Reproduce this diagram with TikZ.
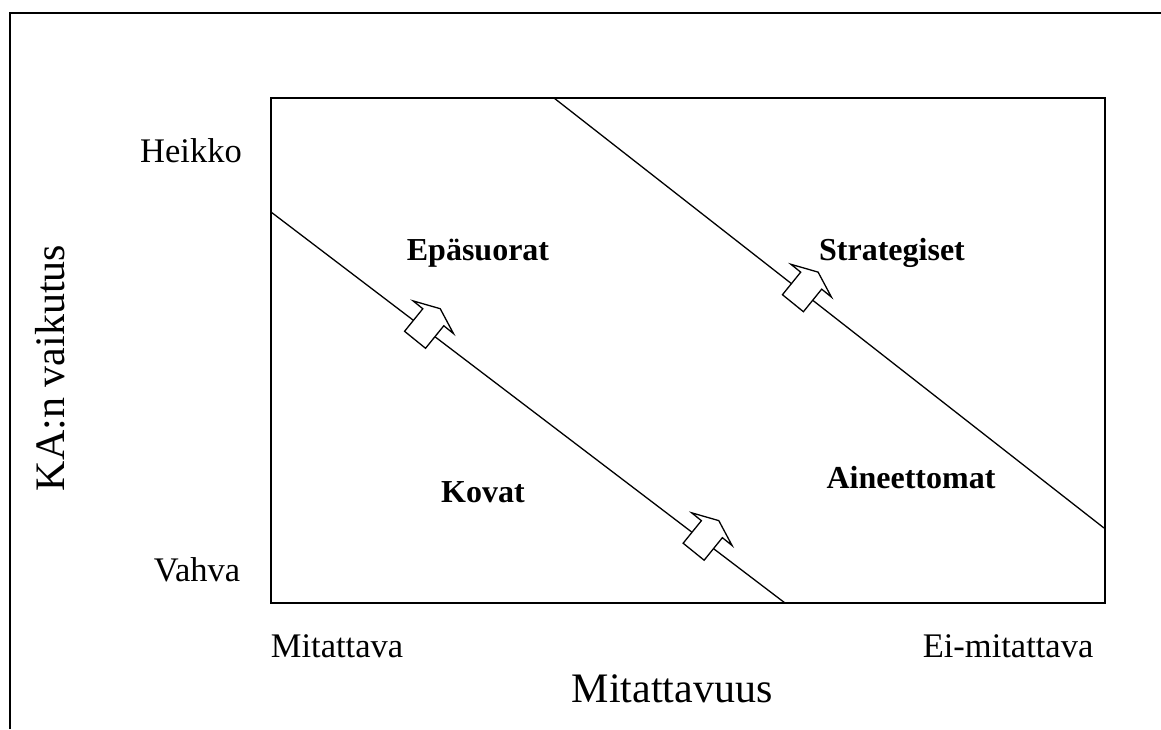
\documentclass[tikz,border=0pt]{standalone}
\usepackage{fontspec}
\setmainfont{Liberation Serif}
\begin{document}
\begin{tikzpicture}[x=1pt,y=-1pt,
  frameline/.style={line width=2pt},
  diag/.style={line width=1.3pt},
  blockarr/.style={line width=1.3pt, fill=white, line join=miter},
  small/.style={font=\fontsize{34.5}{40}\selectfont, inner sep=0pt},
  big/.style={font=\fontsize{42}{48}\selectfont, inner sep=0pt},
  region/.style={font=\fontsize{32}{36}\selectfont\bfseries, inner sep=0pt}]
\useasboundingbox (0,0) rectangle (1161,729);
% outer frame
\coordinate (ofb) at (10,729);
\coordinate (oft) at (10,13);
\coordinate (ofr) at (1161,13);
\draw[frameline] (ofb) -- (oft) -- (ofr);
% inner rectangle
\coordinate (bl) at (271,603);
\coordinate (tr) at (1105,98);
\draw[frameline] (bl) rectangle (tr);
% diagonal lines
\coordinate (l1a) at (271,212);
\coordinate (l1b) at (785,603);
\coordinate (l2a) at (554,98);
\coordinate (l2b) at (1104,528);
\draw[diag] (l1a) -- coordinate[pos=0.298] (a1) coordinate[pos=0.84] (a2) (l1b);
\draw[diag] (l2a) -- coordinate[pos=0.451] (a3) (l2b);
% block arrows
\foreach \c in {a1,a2,a3}{
  \draw[blockarr, shift={(\c)}, rotate=-39]
    (-13.5,14.5) -- (13.5,14.5) -- (13.5,-14.5) -- (26,-14.5) -- (0,-25.5)
    -- (-26,-14.5) -- (-13.5,-14.5) -- cycle;
}
% axis labels
\node[small, anchor=base] (heikko) at (191,162) {Heikko};
\node[small, anchor=base] (vahva) at (197,581) {Vahva};
\node[small, anchor=base] (mit) at (337,657) {Mitattava};
\node[small, anchor=base] (eimit) at (1008,657) {Ei-mitattava};
\node[big, anchor=base] (mitv) at (672,702) {Mitattavuus};
\node[big, rotate=90] (kav) at (50,368) {KA:n vaikutus};
% region labels
\node[region, anchor=base] (epa) at (478,260) {Epäsuorat};
\node[region, anchor=base] (str) at (892,260) {Strategiset};
\node[region, anchor=base] (kov) at (483,502) {Kovat};
\node[region, anchor=base] (ain) at (911,488) {Aineettomat};
\end{tikzpicture}
\end{document}
